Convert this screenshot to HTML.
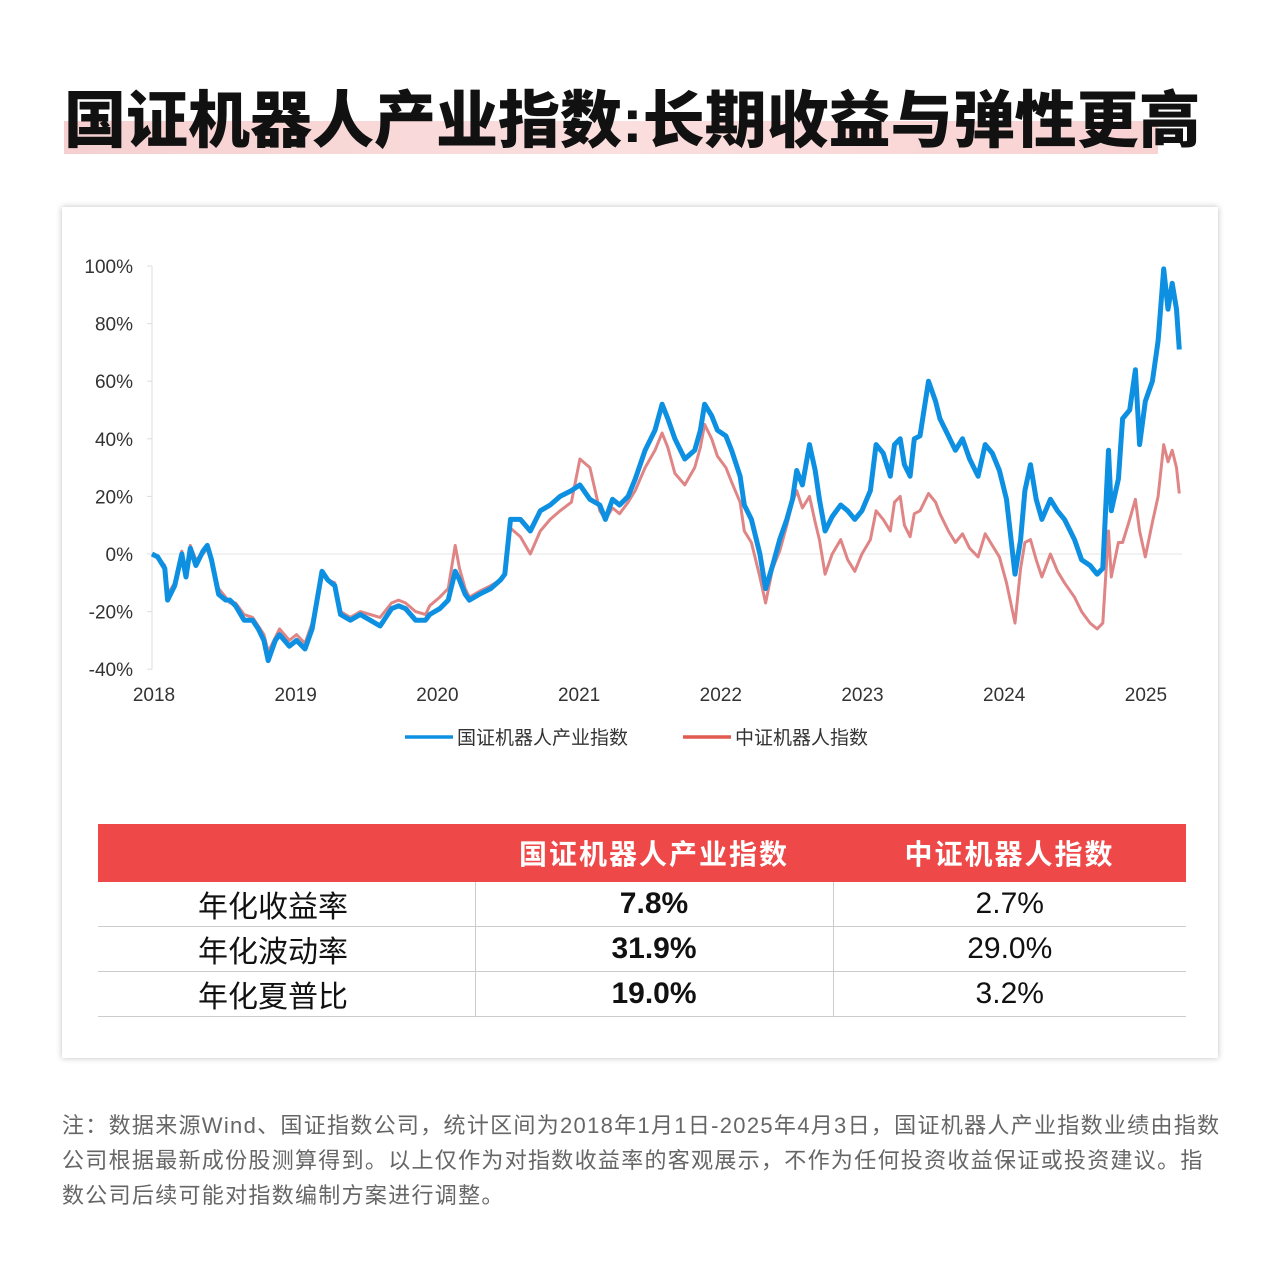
<!DOCTYPE html>
<html><head><meta charset="utf-8">
<style>
body{margin:0;width:1280px;height:1266px;background:#fff;position:relative;overflow:hidden;font-family:"Liberation Sans","Noto Sans CJK SC",sans-serif;}
.title-bar{position:absolute;left:64px;top:121px;width:1094px;height:33px;background:linear-gradient(90deg,#f6d0d0,#fbdede 50%,#f9d2d2);}
.title{position:absolute;left:64px;top:82px;font-size:62px;font-weight:900;letter-spacing:0px;color:#111;white-space:nowrap;line-height:80px;width:1081px;}
.card{position:absolute;left:62px;top:207px;width:1156px;height:851px;background:#fff;box-shadow:0 0 6px rgba(0,0,0,0.25);}
table{position:absolute;left:98px;top:824px;width:1088px;border-collapse:collapse;}
th{background:#ee4848;color:#fff;font-size:28px;font-weight:bold;height:56px;letter-spacing:2px;}
td{font-size:30px;height:43px;padding:0;border-bottom:1.5px solid #ccc;text-align:center;color:#111;}
td.l{text-align:left;padding-left:100px;}
td.c{border-left:1.5px solid #ccc;}
.note{position:absolute;left:62px;top:1108px;width:1160px;font-size:22px;letter-spacing:1.3px;line-height:35px;color:#666;}
</style></head><body>
<div class="title-bar"></div>
<div class="title">国证机器人产业指数:长期收益与弹性更高</div>
<div class="card"></div>
<svg id="chart" style="position:absolute;left:0;top:0" width="1280" height="780"></svg>
<table>
<tr><th style="width:375px"></th><th style="width:356px">国证机器人产业指数</th><th>中证机器人指数</th></tr>
<tr><td class="l">年化收益率</td><td class="c" style="font-weight:bold">7.8%</td><td class="c">2.7%</td></tr>
<tr><td class="l">年化波动率</td><td class="c" style="font-weight:bold">31.9%</td><td class="c">29.0%</td></tr>
<tr><td class="l">年化夏普比</td><td class="c" style="font-weight:bold">19.0%</td><td class="c">3.2%</td></tr>
</table>
<div class="note">注：数据来源Wind、国证指数公司，统计区间为2018年1月1日-2025年4月3日，国证机器人产业指数业绩由指数公司根据最新成份股测算得到。以上仅作为对指数收益率的客观展示，不作为任何投资收益保证或投资建议。指数公司后续可能对指数编制方案进行调整。</div>
<script>
const dates=[2018.00,2018.04,2018.09,2018.11,2018.16,2018.21,2018.24,2018.27,2018.31,2018.36,2018.39,2018.42,2018.47,2018.52,2018.55,2018.59,2018.65,2018.71,2018.75,2018.79,2018.82,2018.87,2018.90,2018.97,
2019.02,2019.08,2019.13,2019.20,2019.24,2019.29,2019.33,2019.40,2019.47,2019.54,2019.61,2019.69,2019.74,2019.79,2019.86,2019.93,2019.96,
2020.03,2020.09,2020.14,2020.17,2020.21,2020.24,2020.31,2020.39,2020.46,2020.49,2020.53,2020.60,2020.67,2020.74,2020.81,2020.88,2020.96,
2021.02,2021.09,2021.16,2021.20,2021.25,2021.30,2021.36,2021.41,2021.48,2021.55,2021.60,2021.64,2021.69,2021.76,2021.83,2021.87,2021.90,2021.95,2021.99,
2022.05,2022.09,2022.15,2022.18,2022.23,2022.29,2022.33,2022.38,2022.43,2022.48,2022.52,2022.55,2022.59,2022.64,2022.68,2022.71,2022.75,2022.80,2022.86,2022.91,2022.96,
2023.01,2023.07,2023.11,2023.16,2023.21,2023.24,2023.28,2023.31,2023.35,2023.38,2023.42,2023.48,2023.53,2023.56,2023.62,2023.67,2023.72,2023.77,2023.83,2023.88,2023.93,2023.98,
2024.03,2024.09,2024.13,2024.16,2024.20,2024.24,2024.28,2024.34,2024.39,2024.44,2024.51,2024.56,2024.62,2024.67,2024.71,2024.75,2024.77,2024.82,2024.85,2024.90,2024.94,2024.97,
2025.01,2025.06,2025.10,2025.14,2025.17,2025.20,2025.23,2025.25];
const guozheng=[0,-1,-5,-16,-11,0,-8,2,-4,1,3,-2,-14,-16,-16,-18,-23,-23,-26,-30,-37,-30,-28,-32,
-30,-33,-26,-6,-9,-11,-21,-23,-21,-23,-25,-19,-18,-19,-23,-23,-21,
-19,-16,-6,-9,-14,-16,-14,-12,-9,-7,12,12,8,15,17,20,22,
24,19,17,12,19,17,20,26,36,43,52,47,40,33,36,43,52,48,43,
41,36,27,17,12,0,-12,-4,5,12,19,29,24,38,29,19,8,13,17,15,12,
15,22,38,35,27,38,40,31,27,40,41,60,53,47,41,36,40,33,27,38,35,29,
19,-7,5,22,31,19,12,19,15,12,5,-2,-4,-7,-5,36,15,26,47,50,64,38,
53,60,74,99,85,94,85,71];
const zhongzheng=[0,-1,-4,-14,-10,1,-6,3,-2,0,2,-2,-12,-15,-17,-17,-21,-22,-25,-28,-34,-29,-26,-30,
-28,-31,-24,-7,-9,-10,-20,-22,-20,-21,-22,-17,-16,-17,-20,-21,-18,
-15,-12,3,-5,-12,-15,-13,-11,-9,-7,9,6,0,8,12,15,18,
33,30,15,12,16,14,18,22,30,36,42,37,28,24,30,37,45,40,34,
30,25,18,8,4,-8,-17,-5,1,10,18,22,16,20,11,5,-7,0,5,-2,-6,
0,5,15,12,8,18,20,10,6,14,15,21,18,14,8,4,7,2,-1,7,3,-1,
-10,-24,-5,4,5,-2,-8,0,-6,-10,-15,-20,-24,-26,-24,8,-8,4,4,12,19,8,
-1,11,20,38,32,36,30,21];
const yTicks=[100,80,60,40,20,0,-20,-40];
const xTicks=[2018,2019,2020,2021,2022,2023,2024,2025];
const legendLabels=["国证机器人产业指数","中证机器人指数"];

const svg=document.getElementById('chart');
const NS='http://www.w3.org/2000/svg';
const xs=t=>152+(t-2018)*141.7;
const ys=v=>554-v*2.88;
function mk(tag,attrs){const e=document.createElementNS(NS,tag);for(const k in attrs)e.setAttribute(k,attrs[k]);svg.appendChild(e);return e;}
let ax=mk('line',{x1:152,x2:152,y1:ys(100),y2:ys(-40),stroke:'#ddd','stroke-width':1});


yTicks.forEach(v=>{
  const tk=mk('line',{x1:147,x2:152,y1:ys(v),y2:ys(v),stroke:'#ddd'});
  
  
  const t=mk('text',{x:133,y:ys(v)+7,'text-anchor':'end','font-size':19,fill:'#333','font-family':'Liberation Sans, sans-serif'});
  t.textContent=v+'%';
  
  
});
const zl=mk('line',{x1:152,x2:1182,y1:ys(0),y2:ys(0),stroke:'#e6e6e6','stroke-width':1});


xTicks.forEach(y=>{
  const t=mk('text',{x:xs(y)+2,y:701,'text-anchor':'middle','font-size':19,fill:'#333','font-family':'Liberation Sans, sans-serif'});
  t.textContent=y;
  
  
});
function path(vals){return vals.map((v,i)=>(i?'L':'M')+xs(dates[i]).toFixed(1)+','+ys(v).toFixed(1)).join(' ');}
const rl=mk('path',{d:path(zhongzheng),fill:'none',stroke:'#e08585','stroke-width':3,'stroke-linejoin':'round'});


const bl=mk('path',{d:path(guozheng),fill:'none',stroke:'#0e90e2','stroke-width':5,'stroke-linejoin':'round'});


const lg=[[405,'#0e90e2',legendLabels[0]],[683,'#e05a50',legendLabels[1]]];
lg.forEach(([x,c,l])=>{
  const ln=mk('line',{x1:x,x2:x+48,y1:737,y2:737,stroke:c,'stroke-width':3.5});
  
  
  const t=mk('text',{x:x+52,y:744,'font-size':19,fill:'#333','font-family':'Liberation Sans, Noto Sans CJK SC, sans-serif'});
  t.textContent=l;
  
  
});
</script>
</body></html>
